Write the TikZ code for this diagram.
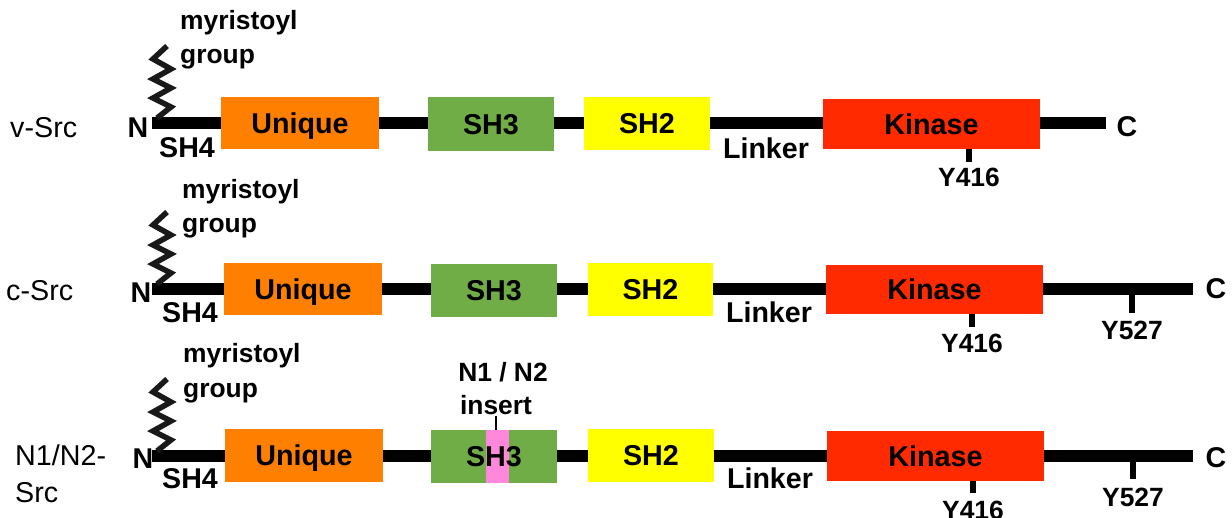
\documentclass[tikz,border=0pt]{standalone}
\usepackage{fontspec}
\setmainfont{Liberation Sans}
\definecolor{uniq}{HTML}{FF8000}
\definecolor{shthree}{HTML}{70AD47}
\definecolor{shtwo}{HTML}{FFFF00}
\definecolor{kin}{HTML}{FF2A00}
\definecolor{ins}{HTML}{FF88DD}
\tikzset{
  dom/.style={draw=none, inner sep=0pt, text height=20.5pt, text depth=0pt,
    font=\bfseries\fontsize{28.7}{30}\selectfont},
  lbl/.style={inner sep=0pt, text height=20.5pt, text depth=0pt,
    font=\bfseries\fontsize{28.6}{30}\selectfont},
  sml/.style={inner sep=0pt, text height=18.9pt, text depth=0pt,
    font=\bfseries\fontsize{26.4}{30}\selectfont},
  rowname/.style={inner sep=0pt, anchor=west, text height=20.5pt, text depth=0pt,
    font=\fontsize{28.7}{30}\selectfont},
  backbone/.style={line width=12pt, line cap=butt},
  zig/.style={line width=5.5pt, line join=miter, color=black!90},
  tickmark/.style={line width=6pt, line cap=butt},
  thintick/.style={line width=2.5pt, line cap=butt}
}
\newcommand\myzig[1]{%
  \draw[zig, shift={(0,#1)}] (167,-77) -- (153,-64) -- (171,-54) -- (153,-44)
     -- (171,-35) -- (153,-25) -- (171,-16) -- (157,-5);}
\begin{document}
\begin{tikzpicture}[x=1pt, y=-1pt]
\useasboundingbox (0,0) rectangle (1232,517);

% ---------------- Row 1: v-Src ----------------
\coordinate (n1) at (152,123);
\coordinate (c1) at (1106,123);
\draw[backbone] (n1) -- (c1);
\myzig{123}
\node[dom, fill=uniq, minimum width=158pt, minimum height=52pt] (u1) at (300,123) {Unique};
\node[dom, fill=shthree, minimum width=126pt, minimum height=54pt] (s31) at (491,124) {SH3};
\node[dom, fill=shtwo, minimum width=126pt, minimum height=53pt] (s21) at (647,123.5) {SH2};
\node[dom, fill=kin, minimum width=217pt, minimum height=50pt] (k1) at (931.5,124) {Kinase};
\node[rowname] (vsrc) at (10,127) {v-Src};
\node[lbl] (nt1) at (138,127) {N};
\node[lbl] (sh41) at (187,147) {SH4};
\node[lbl] (lk1) at (766,148) {Linker};
\node[lbl] (ct1) at (1127,126) {C};
\node[sml, anchor=west] (my1) at (180,20.5) {myristoyl};
\node[sml, anchor=west] (gr1) at (180,54.5) {group};
\node[sml] (ya1) at (969,177) {Y416};
\coordinate (ta1) at (969,162);
\draw[tickmark] (k1.south -| ta1) -- (ta1);

% ---------------- Row 2: c-Src ----------------
\coordinate (n2) at (152,289);
\coordinate (c2) at (1193,289);
\draw[backbone] (n2) -- (c2);
\myzig{289}
\node[dom, fill=uniq, minimum width=158pt, minimum height=52pt] (u2) at (303,289) {Unique};
\node[dom, fill=shthree, minimum width=126pt, minimum height=53pt] (s32) at (494,290.5) {SH3};
\node[dom, fill=shtwo, minimum width=125pt, minimum height=53pt] (s22) at (650.5,289.5) {SH2};
\node[dom, fill=kin, minimum width=217pt, minimum height=49pt] (k2) at (934.5,289.5) {Kinase};
\node[rowname] (csrc) at (6,290) {c-Src};
\node[lbl] (nt2) at (141,292) {N};
\node[lbl] (sh42) at (190,312) {SH4};
\node[lbl] (lk2) at (769,312) {Linker};
\node[lbl] (ct2) at (1216,288) {C};
\node[sml, anchor=west] (my2) at (182,189.5) {myristoyl};
\node[sml, anchor=west] (gr2) at (182,223.5) {group};
\node[sml] (ya2) at (972,343) {Y416};
\coordinate (ta2) at (972,327);
\draw[tickmark] (k2.south -| ta2) -- (ta2);
\node[sml] (yb2) at (1132,330) {Y527};
\coordinate (tb2a) at (1132,294);
\coordinate (tb2) at (1132,313);
\draw[tickmark] (tb2a) -- (tb2);

% ---------------- Row 3: N1/N2-Src ----------------
\coordinate (n3) at (152,456);
\coordinate (c3) at (1193,456);
\draw[backbone] (n3) -- (c3);
\myzig{456}
\node[dom, fill=uniq, minimum width=158pt, minimum height=53pt] (u3) at (304,455.5) {Unique};
\node[dom, fill=shthree, minimum width=126pt, minimum height=53pt] (s33) at (494,456.5) {};
\node[fill=ins, inner sep=0pt, minimum width=23pt, minimum height=53pt] (in3) at (497.5,456.5) {};
\node[dom] (s33t) at (s33.center) {SH3};
\node[dom, fill=shtwo, minimum width=126pt, minimum height=53pt] (s23) at (651,455.5) {SH2};
\node[dom, fill=kin, minimum width=217pt, minimum height=50pt] (k3) at (935.5,456) {Kinase};
\node[rowname] (nsrca) at (15,455) {N1/N2-};
\node[rowname] (nsrcb) at (15,492) {Src};
\node[lbl] (nt3) at (143,458) {N};
\node[lbl] (sh43) at (190,478) {SH4};
\node[lbl] (lk3) at (770,478) {Linker};
\node[lbl] (ct3) at (1216,457) {C};
\node[sml, anchor=west] (my3) at (183,353.5) {myristoyl};
\node[sml, anchor=west] (gr3) at (183,388.5) {group};
\node[sml] (ins1) at (503,372) {N1 / N2};
\node[sml] (ins2) at (496,405) {insert};
\coordinate (ti3) at (496,416);
\draw[thintick] (ti3) -- (in3.north -| ti3);
\node[sml] (ya3) at (973,510) {Y416};
\coordinate (ta3) at (973,493);
\draw[tickmark] (k3.south -| ta3) -- (ta3);
\node[sml] (yb3) at (1133,497) {Y527};
\coordinate (tb3a) at (1133,462);
\coordinate (tb3) at (1133,479);
\draw[tickmark] (tb3a) -- (tb3);
\end{tikzpicture}
\end{document}
